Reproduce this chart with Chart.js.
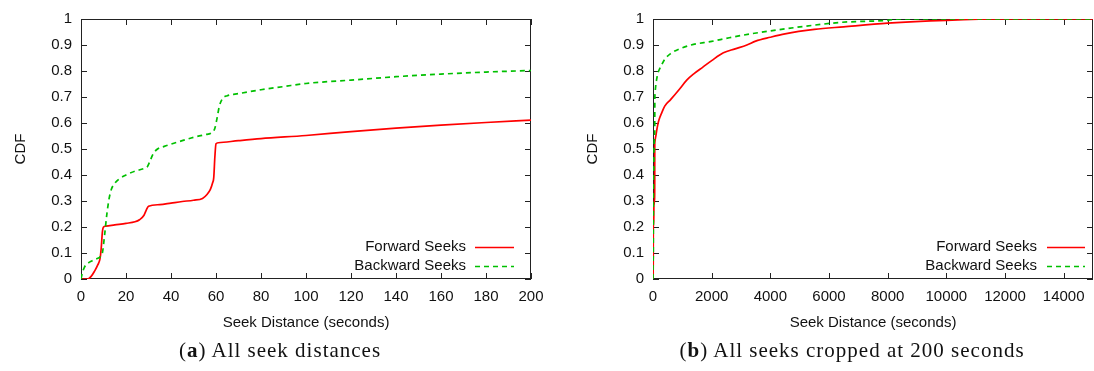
<!DOCTYPE html>
<html>
<head>
<meta charset="utf-8">
<title>Seek distance CDF</title>
<script src="https://cdn.jsdelivr.net/npm/chart.js@4.4.0/dist/chart.umd.min.js"></script>
<style>
  body { margin: 0; background: #fff; width: 1094px; height: 371px; position: relative; overflow: hidden; }
  canvas { position: absolute; top: 0; }
  #seekAll { left: 0; }
  #seekWide { left: 572px; }
  .caption {
    position: absolute; top: 338px; line-height: 24px;
    font-family: "Liberation Serif", "Times New Roman", serif; font-size: 21px; letter-spacing: 1px;
    color: #111; white-space: nowrap; transform: translateX(-50%);
  }
</style>
</head>
<body>
<canvas id="seekAll" width="547" height="345"></canvas>
<canvas id="seekWide" width="522" height="345"></canvas>
<div class="caption" style="left:280px">(<b>a</b>) All seek distances</div>
<div class="caption" style="left:852px">(<b>b</b>) All seeks cropped at 200 seconds</div>
<script>
// CDF of seek distance, [seconds, fraction] pairs up to 200 s
const forwardHead = [
  [0, 0], [3, 0], [4.5, 0.01], [6, 0.03], [7.5, 0.055], [8.5, 0.08], [9, 0.12], [9.5, 0.18],
  [10, 0.2], [11, 0.203], [15, 0.208], [20, 0.214], [24, 0.22], [26, 0.228], [28, 0.245],
  [29, 0.265], [30, 0.28], [35, 0.286], [40, 0.292], [45, 0.298], [50, 0.303], [54, 0.31],
  [56, 0.325], [57.5, 0.345], [58.5, 0.37], [59, 0.39], [59.5, 0.47], [60, 0.52], [61, 0.524],
  [70, 0.532], [80, 0.54], [100, 0.552], [120, 0.567], [140, 0.58], [160, 0.592], [180, 0.602],
  [200, 0.611]
];
const backwardHead = [
  [0, 0], [0.5, 0.02], [1.5, 0.045], [3, 0.06], [5, 0.07], [7, 0.078], [8.5, 0.085], [9.5, 0.1],
  [10.5, 0.17], [11.5, 0.25], [12.5, 0.31], [13.5, 0.345], [15, 0.368], [17, 0.385], [20, 0.4],
  [24, 0.415], [28, 0.425], [29.5, 0.432], [30.5, 0.45], [32, 0.48], [34, 0.5], [37, 0.51],
  [45, 0.532], [50, 0.545], [55, 0.555], [58.5, 0.565], [59.5, 0.58], [60.5, 0.62], [61.5, 0.665],
  [63, 0.695], [65, 0.705], [70, 0.713], [80, 0.728], [90, 0.74], [100, 0.752], [120, 0.765],
  [140, 0.778], [160, 0.788], [180, 0.796], [200, 0.802]
];
// the rest of the distribution, beyond 200 s
const forwardTail = [
  [300, 0.64], [400, 0.665], [600, 0.69], [900, 0.73], [1150, 0.765], [1400, 0.79], [1700, 0.815],
  [2000, 0.84], [2400, 0.87], [2800, 0.885], [3200, 0.9], [3500, 0.915], [4000, 0.93],
  [4500, 0.943], [5500, 0.96], [6500, 0.97], [8000, 0.984], [10000, 0.995], [12000, 1], [15000, 1]
];
const backwardTail = [
  [300, 0.825], [400, 0.845], [600, 0.867], [900, 0.885], [1300, 0.9], [2000, 0.914],
  [2600, 0.928], [3400, 0.944], [4300, 0.959], [5400, 0.975], [6400, 0.987], [8000, 0.995],
  [8400, 1], [15000, 1]
];

const seriesLabels = ['Forward Seeks', 'Backward Seeks'];
const xTicksShort = [0, 20, 40, 60, 80, 100, 120, 140, 160, 180, 200];
const xTicksLong = [0, 2000, 4000, 6000, 8000, 10000, 12000, 14000];
const yTicks = [0, 0.1, 0.2, 0.3, 0.4, 0.5, 0.6, 0.7, 0.8, 0.9, 1];
const xTitle = 'Seek Distance (seconds)';
const yTitle = 'CDF';

const FONT = { family: '"Liberation Sans", Arial, sans-serif', size: 15 };
const INK = '#111';

// gnuplot-like box: frame, inward ticks on all sides, key at lower right
const gnuplotFrame = {
  id: 'gnuplotFrame',
  beforeDatasetsDraw(chart) {
    const { ctx, chartArea: a, scales: { x, y } } = chart;
    ctx.save();
    ctx.strokeStyle = '#222';
    ctx.lineWidth = 1;
    ctx.strokeRect(a.left + 0.5, a.top + 0.5, a.right - a.left - 1, a.bottom - a.top - 1);
    ctx.beginPath();
    x.ticks.forEach(t => {
      const px = Math.round(x.getPixelForValue(t.value)) + 0.5;
      ctx.moveTo(px, a.bottom); ctx.lineTo(px, a.bottom - 6);
      ctx.moveTo(px, a.top); ctx.lineTo(px, a.top + 6);
    });
    y.ticks.forEach(t => {
      const py = Math.round(y.getPixelForValue(t.value)) + 0.5;
      ctx.moveTo(a.left, py); ctx.lineTo(a.left + 6, py);
      ctx.moveTo(a.right, py); ctx.lineTo(a.right - 6, py);
    });
    ctx.stroke();
    ctx.restore();
  },
  afterDraw(chart, args, opts) {
    const { ctx, chartArea: a } = chart;
    ctx.save();
    ctx.font = `${FONT.size}px ${FONT.family}`;
    ctx.textAlign = 'right';
    ctx.textBaseline = 'middle';
    chart.data.datasets.forEach((ds, i) => {
      const yy = a.bottom - 32 + i * 18.5;
      ctx.fillStyle = INK;
      ctx.fillText(ds.label, a.right - opts.textGap, yy);
      ctx.strokeStyle = ds.borderColor;
      ctx.lineWidth = ds.borderWidth;
      ctx.setLineDash(ds.borderDash || []);
      ctx.beginPath();
      ctx.moveTo(a.right - opts.lineStart, Math.round(yy) + 0.5);
      ctx.lineTo(a.right - opts.lineEnd, Math.round(yy) + 0.5);
      ctx.stroke();
    });
    ctx.restore();
  }
};

const toXY = pts => pts.map(([x, y]) => ({ x, y }));
const asTicks = values => values.map(value => ({ value }));

function drawCdf(id, forward, backward, xMax, xTicks, padRight, key) {
  return new Chart(document.getElementById(id), {
    type: 'line',
    data: {
      datasets: [
        {
          label: seriesLabels[0], data: toXY(forward),
          borderColor: '#f00', borderWidth: 1.7, order: 2
        },
        {
          label: seriesLabels[1], data: toXY(backward),
          borderColor: '#00c000', borderWidth: 1.7, borderDash: [5, 4], order: 1
        }
      ]
    },
    options: {
      responsive: false,
      animation: false,
      devicePixelRatio: 1,
      layout: { padding: { left: 0, right: padRight, top: 19, bottom: 0 } },
      elements: { point: { radius: 0 }, line: { cubicInterpolationMode: 'monotone' } },
      plugins: { legend: { display: false }, tooltip: { enabled: false }, gnuplotFrame: key },
      scales: {
        x: {
          type: 'linear', min: 0, max: xMax,
          afterFit: s => { s.height = 66; s.paddingLeft = 0; s.paddingRight = 0; },
          afterBuildTicks: s => { s.ticks = asTicks(xTicks); },
          grid: { display: false, drawTicks: false },
          border: { display: false },
          ticks: {
            maxRotation: 0, autoSkip: false, padding: 9, color: INK, font: FONT,
            callback: v => String(v)
          },
          title: { display: true, text: xTitle, color: INK, font: FONT, padding: { top: 0, bottom: 13 } }
        },
        y: {
          min: 0, max: 1,
          afterFit: s => { s.width = 81; },
          afterBuildTicks: s => { s.ticks = asTicks(yTicks); },
          grid: { display: false, drawTicks: false },
          border: { display: false },
          ticks: {
            padding: 9, color: INK, font: FONT,
            callback: v => String(Math.round(v * 10) / 10)
          },
          title: { display: true, text: yTitle, color: INK, font: FONT, padding: { top: 12, bottom: 0 } }
        }
      }
    },
    plugins: [gnuplotFrame]
  });
}

drawCdf('seekAll', forwardHead, backwardHead, 200, xTicksShort, 16,
  { textGap: 65, lineStart: 56, lineEnd: 17 });
drawCdf('seekWide', forwardHead.concat(forwardTail), backwardHead.concat(backwardTail), 15000, xTicksLong, 1,
  { textGap: 56, lineStart: 46, lineEnd: 8 });
</script>
</body>
</html>
